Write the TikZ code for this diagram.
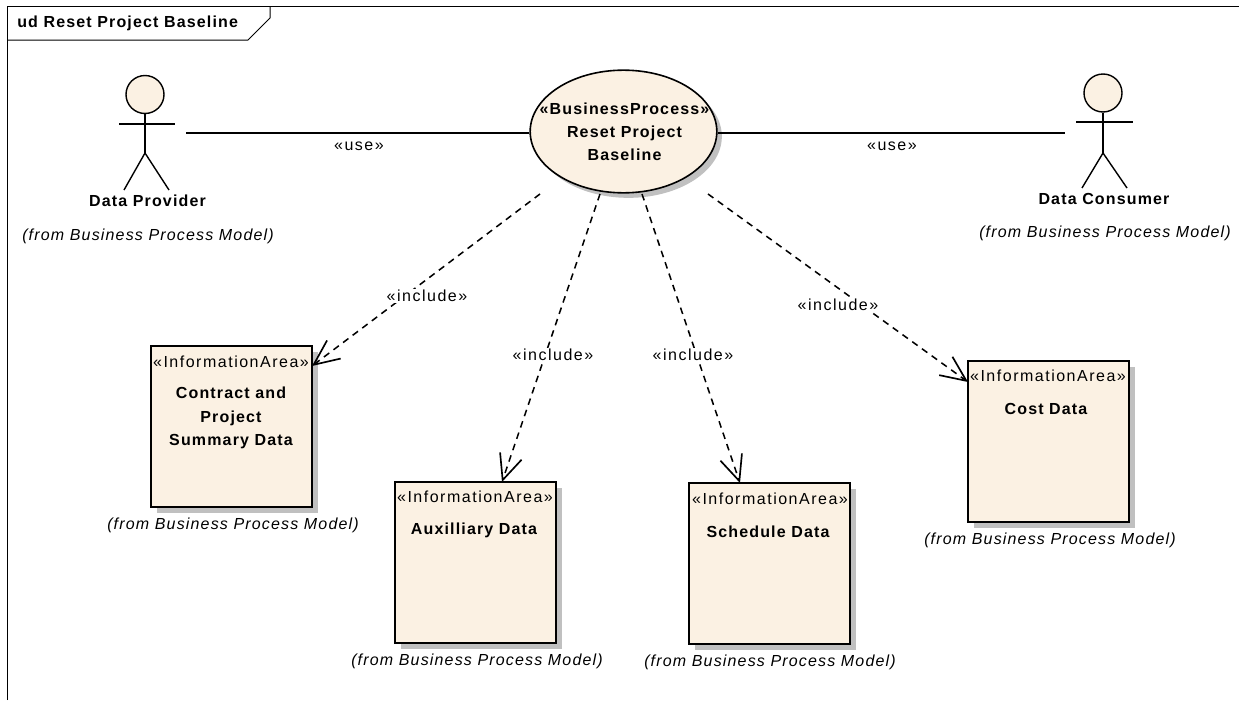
\documentclass[tikz,border=0pt]{standalone}
\usepackage{fontspec}
\setmainfont{Liberation Sans}
\usetikzlibrary{arrows.meta,shapes.geometric}
\definecolor{fillc}{HTML}{FBF1E3}
\definecolor{shadowc}{HTML}{C0C0C0}
\newfontfamily\spb[LetterSpace=7.2]{Liberation Sans Bold}
\newfontfamily\spr[LetterSpace=9.4]{Liberation Sans}
\newfontfamily\spi[LetterSpace=7.3]{Liberation Sans Italic}
\newcommand{\nm}{\fontsize{12pt}{17.4pt}\spb\selectfont}
\newcommand{\st}{\fontsize{12pt}{17.4pt}\spr\selectfont}
\newcommand{\fr}{\fontsize{12pt}{17.4pt}\spi\selectfont}
\tikzset{
 x=0.75pt,y=-0.75pt,
 boxst/.style={draw=black,line width=1.2pt,fill=fillc,minimum width=120.75pt,minimum height=120.75pt,inner sep=0pt},
 shadowst/.style={fill=shadowc,draw=none,minimum width=121pt,minimum height=121pt,inner sep=0pt},
 actorline/.style={line width=1.05pt,draw=black},
 usest/.style={line width=1.2pt,draw=black},
 inclst/.style={line width=1.15pt,draw=black,dash pattern=on 5pt off 4pt,-{Straight Barb[length=19pt,width=17pt,line width=1.25pt]}},
 lbl/.style={inner sep=0pt,align=center,text=black},
 namest/.style={lbl,font=\nm},
 stereost/.style={lbl,font=\st},
 fromst/.style={lbl,font=\fr},
 inclabel/.style={stereost,fill=white,inner sep=1pt},
}
\begin{document}
\begin{tikzpicture}
\useasboundingbox (0,0) rectangle (1239,700);
\fill[white] (0,0) rectangle (1239,700);
% frame
\draw[line width=0.75pt] (7,700) -- (7,6) -- (1239,6);
\node[namest,anchor=west] (title) at (17,23) {ud Reset Project Baseline};
\draw[line width=0.75pt] (7,40) -- (248,40) -- (270,18) -- (270,6);
% actors
\node[circle,draw=black,fill=fillc,line width=1.05pt,minimum size=28.5pt,inner sep=0pt] (heada) at (145,94.5) {};
\coordinate (hipa) at (145,153);
\draw[actorline] (heada.south) -- (hipa);
\coordinate (ala) at (119,124); \coordinate (ara) at (175,124);
\coordinate (lla) at (124,190); \coordinate (lra) at (169,190);
\draw[actorline] (ala) -- (ara);
\draw[actorline] (lla) -- (hipa) -- (lra);
\node[circle,draw=black,fill=fillc,line width=1.05pt,minimum size=28.5pt,inner sep=0pt] (headb) at (1103,93) {};
\coordinate (hipb) at (1103,153);
\draw[actorline] (headb.south) -- (hipb);
\coordinate (alb) at (1076,122); \coordinate (arb) at (1133,122);
\coordinate (llb) at (1082,188); \coordinate (lrb) at (1127,188);
\draw[actorline] (alb) -- (arb);
\draw[actorline] (llb) -- (hipb) -- (lrb);
\node[namest] (provider) at (147.5,201) {Data Provider};
\node[fromst] (provfrom) at (148,236) {(from Business Process Model)};
\node[namest] (consumer) at (1104,199) {Data Consumer};
\node[fromst] (consfrom) at (1105,233) {(from Business Process Model)};
% process
\node[ellipse,fill=shadowc,minimum width=140pt,minimum height=92pt,inner sep=0pt] (procshadow) at (628.5,136.5) {};
\node[ellipse,draw=black,fill=fillc,line width=1.2pt,minimum width=140pt,minimum height=92pt,inner sep=0pt] (proc) at (623.5,131.5) {};
\node[namest] (proctxt) at (624.5,132) {«BusinessProcess»\\Reset Project\\Baseline};
% boxes
\foreach \n/\l/\t in {c/151/346,x/395/482,s/689/483,k/968/361}{
 \node[shadowst] (sh\n) at (\l+86.5,\t+86.5) {};
 \node[boxst] (box\n) at (\l+80.5,\t+80.5) {};
}
\node[stereost] (ct) at (231,362) {«InformationArea»};
\node[namest] (cn) at (231,418) {Contract and\\Project\\Summary Data};
\node[fromst] (cf) at (233,525) {(from Business Process Model)};
\node[stereost] (xt) at (475,497) {«InformationArea»};
\node[namest] (xn) at (474,530) {Auxilliary Data};
\node[fromst] (xf) at (477,661) {(from Business Process Model)};
\node[stereost] (st) at (770,499) {«InformationArea»};
\node[namest] (sn) at (768,532) {Schedule Data};
\node[fromst] (sf) at (770,662) {(from Business Process Model)};
\node[stereost] (kt) at (1048,376) {«InformationArea»};
\node[namest] (kn) at (1046,409) {Cost Data};
\node[fromst] (kf) at (1050,540) {(from Business Process Model)};
% connectors
\coordinate (ua) at (186,133); \coordinate (ub) at (1065,133);
\draw[usest] (ua) -- (proc.west |- ua);
\draw[usest] (proc.east |- ub) -- (ub);
\node[stereost] (l1) at (359,146) {«use»};
\node[stereost] (l2) at (892,146) {«use»};
\coordinate (d1) at (540,194); \coordinate (d2) at (600,194); \coordinate (d3) at (642,194); \coordinate (d4) at (708,194);
\coordinate (t1) at (312,366); \coordinate (t2) at (502,482); \coordinate (t3) at (740,483); \coordinate (t4) at (968,382);
\draw[inclst] (d1) -- (t1);
\draw[inclst] (d2) -- (t2);
\draw[inclst] (d3) -- (t3);
\draw[inclst] (d4) -- (t4);
\node[inclabel] (i1) at (427,296) {«include»};
\node[inclabel] (i2) at (553,355) {«include»};
\node[inclabel] (i3) at (693,355) {«include»};
\node[inclabel] (i4) at (838,305) {«include»};
\end{tikzpicture}
\end{document}
